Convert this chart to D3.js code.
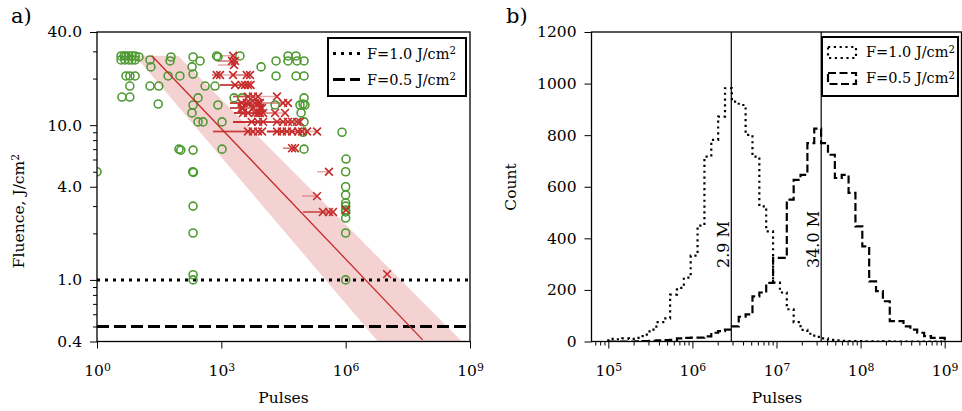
<!DOCTYPE html>
<html>
<head>
<meta charset="utf-8">
<script src="https://cdn.jsdelivr.net/npm/d3@7"></script>
<style>
  body { margin: 0; background: #fff; }
  svg text { font-family: "DejaVu Serif", serif; fill: #000; }
</style>
</head>
<body>
<script>
// ---- panel a data: measured points (pulses, fluence) ----
const circPulses = [3.8, 4.5, 5.0, 5.9, 7.0, 8.3, 10.3, 3.8, 4.7, 5.9, 7.0, 8.3, 19, 20, 61, 58, 208, 307, 196, 208,
  830, 9100, 20900, 20900, 5.0, 6.2, 8.3, 52, 100, 6.2, 19, 31, 406, 705, 4.0, 6.2, 274, 2030, 3150, 30,
  208, 830, 196, 274, 362, 1040, 95, 105, 208, 1040, 1.0, 205, 212, 208, 208, 208, 208, 40700, 63500, 40700,
  67000, 99000, 63500, 99000, 99000, 93700, 79000, 104000, 19800, 84000, 99000, 93700, 99000, 817000, 1.02e6, 1.0e6, 1.0e6, 1.0e6, 1.0e6, 1.0e6,
  1.0e6, 1.0e6, 1.0e6, 1.0e6, 1.0e6, 2810, 771];
const circFluence = [28.0, 28.0, 28.0, 28.0, 28.0, 28.0, 27.6, 26.4, 26.4, 26.4, 26.4, 26.4, 26.4, 23.8, 27.6, 26.0, 27.6, 26.0, 23.8, 21.4,
  27.6, 23.8, 26.0, 20.8, 20.8, 20.8, 20.8, 20.8, 20.8, 17.9, 17.9, 17.9, 17.9, 17.9, 15.2, 15.2, 15.0, 15.0, 15.0, 13.7,
  13.5, 13.5, 12.0, 10.5, 10.5, 10.5, 7.0, 6.9, 6.9, 7.0, 5.0, 5.0, 4.95, 3.0, 2.01, 1.08, 1.0, 28, 28, 26,
  26, 26, 20.8, 20.8, 15.0, 13.7, 13.5, 13.5, 13.5, 12.0, 10.5, 9.0, 7.0, 9.0, 6.04, 5.0, 4.0, 3.54, 3.14, 3.0,
  2.83, 2.75, 2.51, 2.01, 1.0, 28, 28];

const crossPulses = [1920, 1810, 2140, 2030,
  771, 930, 1920, 4100, 4920,
  2140, 3100, 3720, 4400, 5100,
  4400, 5800, 7700, 22000,
  3100, 4100, 4920, 6500, 7700, 8600, 30800, 40700,
  3100, 3330, 5800, 8600, 9600,
  3330, 4400, 6500, 7700, 8600, 10200, 19800, 34500,
  5400, 7700, 10200, 22000, 30800, 40700, 51000, 67000, 79000,
  4400, 5800, 7700, 9600, 22000, 29000, 38000, 51000, 71000, 88600, 117000, 204000,
  51000, 60000, 395000, 204000, 283000, 395000, 495000, 1.02e6, 1.0e7];
const crossFluence = [28.1, 26.0, 26.0, 24.5,
  21.1, 21.1, 21.1, 21.1, 21.1,
  18.2, 18.2, 18.2, 18.2, 18.2,
  15.3, 15.3, 15.3, 15.3,
  13.9, 13.9, 13.9, 13.9, 13.9, 13.9, 13.9, 13.9,
  12.9, 12.9, 12.9, 12.9, 12.9,
  12.0, 12.0, 12.0, 12.0, 12.0, 12.0, 12.0, 12.0,
  10.5, 10.5, 10.5, 10.5, 10.5, 10.5, 10.5, 10.5, 10.5,
  9.1, 9.1, 9.1, 9.1, 9.1, 9.1, 9.1, 9.1, 9.1, 9.1, 9.1, 9.1,
  7.1, 7.1, 5.0, 3.48, 2.75, 2.75, 2.75, 2.83, 1.09];
const crossPulsesLow = [930, 830, 830, 830,
  590, 590, 930, 1920, 1920,
  930, 930, 930, 930, 930,
  1920, 1920, 1920, 1920,
  1620, 1620, 1620, 1620, 1620, 1620, 8600, 8600,
  1620, 1620, 1620, 1620, 1620,
  2030, 2030, 2030, 2030, 2030, 2030, 2030, 2030,
  1920, 1920, 1920, 1920, 1920, 1920, 1920, 1920, 1920,
  630, 630, 630, 630, 12600, 12600, 12600, 12600, 12600, 12600, 12600, 104000,
  30800, 30800, 204000, 88600, 93700, 93700, 93700, 1.0e6, 1.0e7];

// fit line and its band
const fitPulses = [21, 7.2e7];
const fitFluence = [28.1, 0.41];
const bandFluence = [28.1, 0.4];
const bandPulsesLow = [8.3, 6.0e6];
const bandPulsesHigh = [90, 6.4e8];
const refFluence = [1.0, 0.5];
const refLabels = ["F=1.0 J/cm", "F=0.5 J/cm"];

// ---- panel b data: histograms on 49 log bins from 1e5 to 1e9 ----
const histLogMin = 5, histLogMax = 9, histBinCount = 49;
const countsF10 = [10, 8, 12, 10, 14, 27, 46, 75, 90, 182, 208, 248, 333, 449, 717, 782, 872, 982, 930, 917,
  801, 717, 524, 427, 228, 190, 125, 75, 45, 30, 18, 12, 6, 4, 3, 2, 2, 1, 1, 0,
  1, 0, 0, 0, 0, 0, 0, 0, 0];
const countsF05 = [0, 0, 0, 0, 1, 2, 3, 4, 5, 6, 12, 14, 15, 15, 20, 34, 40, 46, 59, 96,
  105, 175, 190, 227, 324, 324, 550, 627, 646, 769, 825, 769, 724, 634, 646, 576, 446, 369, 233, 195,
  156, 79, 79, 59, 46, 34, 21, 14, 14];
const medianPulses = [2.9e6, 34.0e6];
const medianLabels = ["2.9 M", "34.0 M"];

// ---- setup ----
const W = 962, H = 411;
const fs = 15.5;
const green = "#4e9a32", red = "#c62a2a";

const svg = d3.select("body").append("svg")
  .attr("width", W).attr("height", H)
  .attr("viewBox", [0, 0, W, H]);
const defs = svg.append("defs");

function supText(sel, base, exp) {
  sel.append("tspan").text(base);
  sel.append("tspan").attr("dy", "-0.42em").attr("font-size", "0.7em").text(exp);
}

// ================= panel a =================
const A = {left: 97, right: 470, top: 32, bottom: 341.5};
const xA = d3.scaleLog([1, 1e9], [A.left, A.right]);
const yA = d3.scaleLog([0.4, 40], [A.bottom, A.top]);

defs.append("clipPath").attr("id", "clipA").append("rect")
  .attr("x", A.left).attr("y", A.top).attr("width", A.right - A.left).attr("height", A.bottom - A.top);

const pA = svg.append("g").attr("clip-path", "url(#clipA)");

// confidence band
const band = [[bandPulsesLow[0], bandFluence[0]], [bandPulsesHigh[0], bandFluence[0]],
              [bandPulsesHigh[1], bandFluence[1]], [bandPulsesLow[1], bandFluence[1]]];
pA.append("path")
  .attr("d", d3.line().x(d => xA(d[0])).y(d => yA(d[1]))(band) + "Z")
  .attr("fill", "#f4d2d2");

// reference lines
pA.selectAll("line.ref").data(refFluence).join("line")
  .attr("x1", A.left).attr("x2", A.right)
  .attr("y1", d => yA(d)).attr("y2", d => yA(d))
  .attr("stroke", "#000").attr("stroke-width", 3)
  .attr("stroke-dasharray", (d, i) => i === 0 ? "3,5" : "12,5");

// error bars (lower side only)
pA.append("g").selectAll("line").data(crossPulses).join("line")
  .attr("x1", (d, i) => xA(crossPulsesLow[i])).attr("x2", d => xA(d))
  .attr("y1", (d, i) => yA(crossFluence[i])).attr("y2", (d, i) => yA(crossFluence[i]))
  .attr("stroke", red).attr("stroke-opacity", 0.4).attr("stroke-width", 1.5);

// circles
pA.append("g").selectAll("circle").data(circPulses).join("circle")
  .attr("cx", d => xA(d)).attr("cy", (d, i) => yA(circFluence[i]))
  .attr("r", 4).attr("fill", "none").attr("stroke", green).attr("stroke-width", 1.6);

// crosses
pA.append("g").selectAll("path").data(crossPulses).join("path")
  .attr("transform", (d, i) => `translate(${xA(d)},${yA(crossFluence[i])})`)
  .attr("d", "M-3.9,-3.9L3.9,3.9M-3.9,3.9L3.9,-3.9")
  .attr("stroke", red).attr("stroke-width", 1.6).attr("fill", "none");

// fit line
pA.append("line")
  .attr("x1", xA(fitPulses[0])).attr("y1", yA(fitFluence[0]))
  .attr("x2", xA(fitPulses[1])).attr("y2", yA(fitFluence[1]))
  .attr("stroke", red).attr("stroke-width", 1.3);

// axes a
const majorYA = [0.4, 1, 4, 10, 40];
const minorYA = [0.5, 0.6, 0.7, 0.8, 0.9, 2, 3, 5, 6, 7, 8, 9, 20, 30];
svg.append("g").attr("transform", `translate(${A.left},0)`)
  .call(d3.axisLeft(yA).tickValues(minorYA).tickSize(4).tickFormat(""))
  .call(g => g.select(".domain").remove());
svg.append("g").attr("transform", `translate(${A.left},0)`)
  .call(d3.axisLeft(yA).tickValues(majorYA).tickSize(7).tickPadding(8).tickFormat(d3.format(".1f")))
  .call(g => g.select(".domain").remove())
  .call(g => g.selectAll("text").attr("font-size", fs).attr("font-family", "DejaVu Serif"));
svg.append("g").attr("transform", `translate(0,${A.bottom})`)
  .call(d3.axisBottom(xA).tickValues([1, 1e3, 1e6, 1e9]).tickSize(7).tickPadding(6).tickFormat(""))
  .call(g => g.select(".domain").remove())
  .call(g => g.selectAll(".tick").append("text")
    .attr("y", 34).attr("text-anchor", "middle").attr("font-size", fs)
    .each(function(d) { supText(d3.select(this), "10", Math.round(Math.log10(d))); }));
svg.append("rect").attr("x", A.left).attr("y", A.top)
  .attr("width", A.right - A.left).attr("height", A.bottom - A.top)
  .attr("fill", "none").attr("stroke", "#000").attr("stroke-width", 1.3);

svg.append("text").attr("x", (A.left + A.right) / 2).attr("y", 403)
  .attr("text-anchor", "middle").attr("font-size", fs).text("Pulses");
svg.append("text").attr("transform", `translate(24,211) rotate(-90)`)
  .attr("text-anchor", "middle").attr("font-size", fs)
  .call(t => supText(t, "Fluence, J/cm", "2"));
svg.append("text").attr("x", 11).attr("y", 23).attr("font-size", 21).text("a)");

// legend a
const legA = svg.append("g");
legA.append("rect").attr("x", 328).attr("y", 38).attr("width", 138).attr("height", 58)
  .attr("fill", "#fff").attr("stroke", "#000").attr("stroke-width", 2);
refLabels.forEach((lab, i) => {
  const y = 53.5 + i * 26;
  legA.append("line").attr("x1", 333).attr("x2", 360).attr("y1", y).attr("y2", y)
    .attr("stroke", "#000").attr("stroke-width", 3)
    .attr("stroke-dasharray", i === 0 ? "3,5" : "12,5");
  legA.append("text").attr("x", 367).attr("y", y + 5).attr("font-size", fs - 1)
    .call(t => supText(t, lab, "2"));
});

// ================= panel b =================
const B = {left: 591.5, right: 961.5, top: 32, bottom: 341.5};
const xB = d3.scaleLog([10 ** 4.8, 10 ** 9.2], [B.left, B.right]);
const yB = d3.scaleLinear([0, 1200], [B.bottom, B.top]);

defs.append("clipPath").attr("id", "clipB").append("rect")
  .attr("x", B.left).attr("y", B.top).attr("width", B.right - B.left).attr("height", B.bottom - B.top);
const pB = svg.append("g").attr("clip-path", "url(#clipB)");

const edges = d3.range(histBinCount + 1).map(i => 10 ** (histLogMin + (histLogMax - histLogMin) * i / histBinCount));
function stepPts(counts) {
  const pts = [[edges[0], 0]];
  counts.forEach((c, i) => { pts.push([edges[i], c], [edges[i + 1], c]); });
  pts.push([edges[counts.length], 0]);
  return pts;
}
const stepLine = d3.line().x(d => xB(d[0])).y(d => yB(d[1]));
[countsF10, countsF05].forEach((counts, k) => {
  pB.append("path").attr("d", stepLine(stepPts(counts)))
    .attr("fill", "none").attr("stroke", "#000").attr("stroke-width", 2.2)
    .attr("stroke-dasharray", k === 0 ? "2.2,3.6" : "8,3.5");
});

// median lines
medianPulses.forEach((m, i) => {
  pB.append("line").attr("x1", xB(m)).attr("x2", xB(m)).attr("y1", B.top).attr("y2", B.bottom)
    .attr("stroke", "#000").attr("stroke-width", 1.2);
  svg.append("text").attr("transform", `translate(${xB(m) - 2.5},268) rotate(-90)`)
    .attr("font-size", fs + 0.5).text(medianLabels[i]);
});

// axes b
const minorXB = [];
for (let e = 4; e <= 9; e++) for (let m = 2; m <= 9; m++) {
  const v = m * 10 ** e;
  if (v > 10 ** 4.8 && v < 10 ** 9.2) minorXB.push(v);
}
svg.append("g").attr("transform", `translate(0,${B.bottom})`)
  .call(d3.axisBottom(xB).tickValues(minorXB).tickSize(4).tickFormat(""))
  .call(g => g.select(".domain").remove());
svg.append("g").attr("transform", `translate(0,${B.bottom})`)
  .call(d3.axisBottom(xB).tickValues([1e5, 1e6, 1e7, 1e8, 1e9]).tickSize(7).tickFormat(""))
  .call(g => g.select(".domain").remove())
  .call(g => g.selectAll(".tick").append("text")
    .attr("y", 34).attr("text-anchor", "middle").attr("font-size", fs)
    .each(function(d) { supText(d3.select(this), "10", Math.round(Math.log10(d))); }));
svg.append("g").attr("transform", `translate(${B.left},0)`)
  .call(d3.axisLeft(yB).tickValues(d3.range(0, 1201, 200)).tickSize(7).tickPadding(8).tickFormat(d3.format("d")))
  .call(g => g.select(".domain").remove())
  .call(g => g.selectAll("text").attr("font-size", fs).attr("font-family", "DejaVu Serif"));
svg.append("rect").attr("x", B.left).attr("y", B.top)
  .attr("width", B.right - B.left).attr("height", B.bottom - B.top)
  .attr("fill", "none").attr("stroke", "#000").attr("stroke-width", 1.3);

svg.append("text").attr("x", 777).attr("y", 403)
  .attr("text-anchor", "middle").attr("font-size", fs).text("Pulses");
svg.append("text").attr("transform", `translate(516,187) rotate(-90)`)
  .attr("text-anchor", "middle").attr("font-size", fs).text("Count");
svg.append("text").attr("x", 506).attr("y", 23).attr("font-size", 21).text("b)");

// legend b
const legB = svg.append("g");
legB.append("rect").attr("x", 822).attr("y", 37).attr("width", 136).attr("height", 59)
  .attr("fill", "#fff").attr("stroke", "#000").attr("stroke-width", 2);
refLabels.forEach((lab, i) => {
  const y = 47 + i * 26;
  legB.append("rect").attr("x", 828).attr("y", y).attr("width", 28).attr("height", 11)
    .attr("fill", "none").attr("stroke", "#000").attr("stroke-width", 2.2)
    .attr("stroke-dasharray", i === 0 ? "2.2,3.6" : "8,3.5");
  legB.append("text").attr("x", 866).attr("y", y + 10).attr("font-size", fs - 1)
    .call(t => supText(t, lab, "2"));
});
</script>
</body>
</html>
